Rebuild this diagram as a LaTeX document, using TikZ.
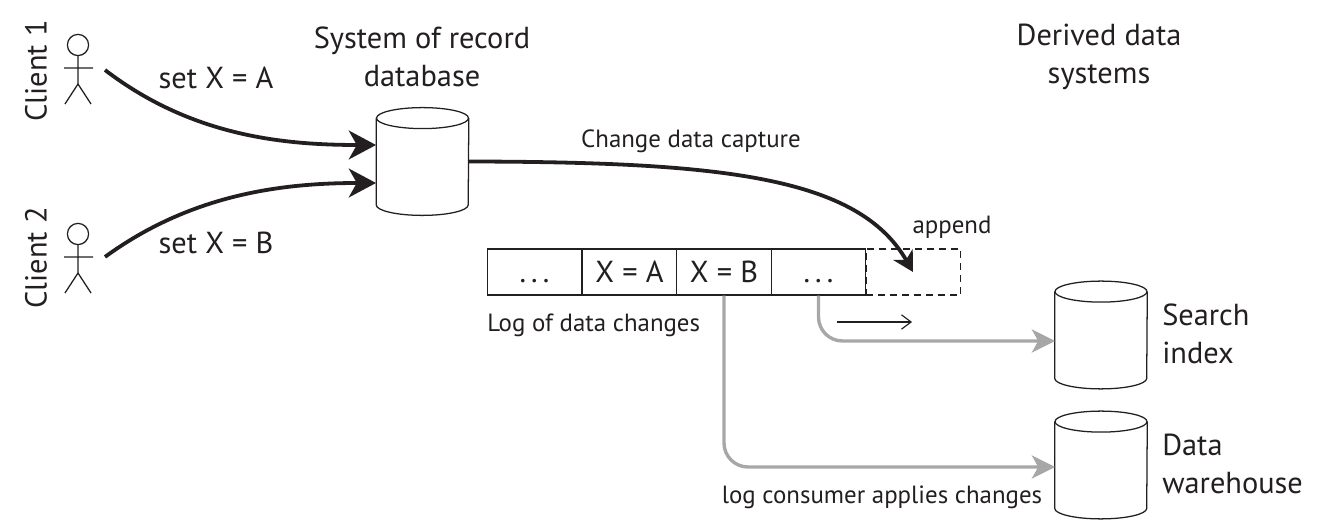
\documentclass[tikz,border=0pt]{standalone}
\usepackage{fontspec}
\setmainfont{PT Sans}
\usepackage{tikz}
\usetikzlibrary{arrows.meta,calc}
\definecolor{ink}{HTML}{231F20}
\definecolor{feed}{HTML}{A7A7A7}

\begin{document}
\begin{tikzpicture}[x=0.025cm,y=-0.025cm,>=Latex, biglab/.style={font=\fontsize{21.6}{27}\selectfont,color=ink,align=center,inner sep=0pt}, lab/.style={font=\fontsize{17.7}{22}\selectfont,color=ink,inner sep=0pt}, store/.style={rectangle,minimum width=2.3cm,minimum height=2.68cm,inner sep=0pt}, storeline/.style={draw=ink,line width=0.9pt}, cell/.style={draw=ink,line width=0.8pt,minimum width=2.365cm,minimum height=1.15cm,inner sep=0pt,font=\fontsize{21.6}{24}\selectfont,text=ink}, write/.style={draw=ink,line width=2.7pt,-{Stealth[length=0.68cm,width=0.72cm,inset=0.2cm]}}, capture/.style={draw=ink,line width=2.7pt,-{Stealth[length=0.5cm,width=0.55cm,inset=0.15cm]}}, feedline/.style={draw=feed,line width=2.4pt,rounded corners=0.6cm,-{Stealth[length=0.58cm,width=0.58cm,inset=0.16cm]}}]
  \useasboundingbox (0,0) rectangle (1324,530);
  % clients
  \foreach \n/\dy in {1/0,2/189}{
    \node[draw=ink,circle,line width=0.9pt,minimum size=0.53cm,inner sep=0pt] (head\n) at (78,45+\dy) {};
    \coordinate (hip\n) at (78,84+\dy);
    \draw[ink,line width=0.9pt] (head\n.south)--(hip\n) (64,68+\dy)--(93,68+\dy) (65,104+\dy)--(hip\n)--(91,104+\dy);
    \coordinate (out\n) at (105,70+\dy*0.989);
  }
  \node[biglab,rotate=90] (cl1) at (36,71) {Client 1};
  \node[biglab,rotate=90] (cl2) at (36,258) {Client 2};

  % databases
  \node[store] (db) at (422.5,161.5) {};
  \node[store] (idx) at (1101,335) {};
  \node[store] (wh) at (1101,465) {};
  \foreach \s in {db,idx,wh}{
    \draw[storeline] ($(\s.north)+(0,10.5)$) ellipse [x radius=46,y radius=10.5];
    \draw[storeline] ($(\s.north west)+(0,10.5)$) -- ($(\s.south west)+(0,-10.5)$) arc[start angle=180,end angle=0,x radius=46,y radius=10.5] -- ($(\s.north east)+(0,10.5)$);
  }
  \node[biglab] (dbtxt) at (422,57) {System of record\\database};
  \node[biglab] (dertxt) at (1099,57) {Derived data\\systems};
  \node[biglab,align=left,anchor=west] (idxtxt) at (1162,334) {Search\\index};
  \node[biglab,align=left,anchor=west] (whtxt) at (1162,464) {Data\\warehouse};

  % log
  \node[cell,dash pattern=on 5pt off 3.5pt] (c5) at (913.5,272) {};
  \node[cell] (c1) at (534.5,272) {\vphantom{X}.\,.\,.};
  \node[cell] (c2) at (629.5,272) {X = A};
  \node[cell] (c3) at (724,272) {X = B};
  \node[cell] (c4) at (818.5,272) {\vphantom{X}.\,.\,.};
  \node[lab,anchor=west] (logtxt) at (487,325) {Log of data changes};
  \node[lab] (apptxt) at (952,227) {append};
  \node[lab] (cdctxt) at (691,141) {Change data capture};
  \node[lab] (contxt) at (882,497) {log consumer applies changes};

  % writes
  \draw[write] (out1) .. controls (190,135) and (280,145) .. ($(db.center)+(-46.5,-16.5)$);
  \draw[write] (out2) .. controls (190,195) and (280,183) .. ($(db.center)+(-46.5,21.5)$);
  \node[biglab] (seta) at (216,78) {set X = A};
  \node[biglab] (setb) at (216,243) {set X = B};
  \draw[capture] (db.east) .. controls (720,162) and (858,176) .. ($(c5.center)+(-0.5,0)$);

  % consumers
  \draw[feedline] (c3.south) |- ($(wh.center)+(-46,2)$);
  \draw[feedline] (c4.south) |- ($(idx.center)+(-46,6)$);
  \coordinate (mvL) at (837,322);
  \coordinate (mvR) at (912,322);
  \draw[ink,line width=0.8pt,-{Straight Barb[length=0.24cm,width=0.36cm]}] (mvL)--(mvR);
\end{tikzpicture}
\end{document}
